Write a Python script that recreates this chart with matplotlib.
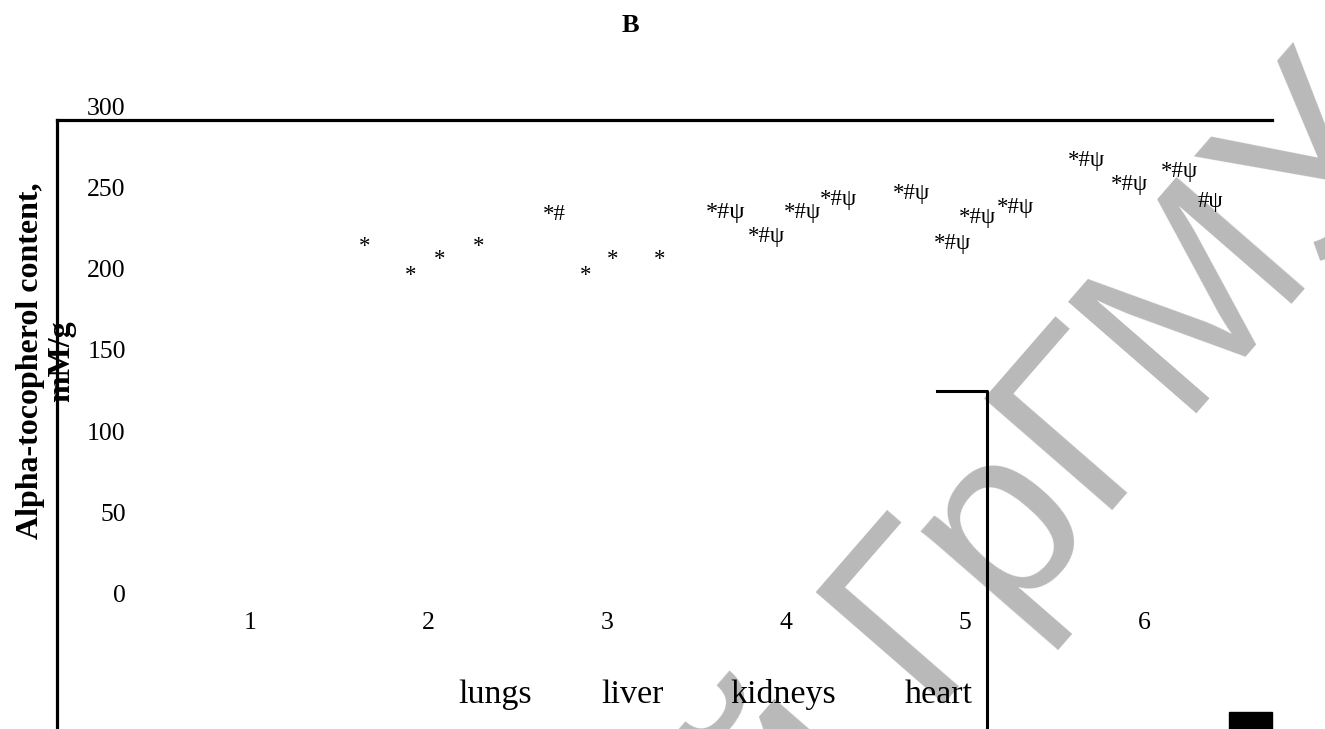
"""Alpha-tocopherol content by organ (panel B)."""

import matplotlib
matplotlib.use("Agg")
import matplotlib.pyplot as plt
from matplotlib.lines import Line2D
from matplotlib.patches import Rectangle

W, H = 1325, 729

# y axis
y_ticks = [0, 50, 100, 150, 200, 250, 300]

# x categories
groups = [1, 2, 3, 4, 5, 6]
group_labels = ["1", "2", "3", "4", "5", "6"]

organs = ["lungs", "liver", "kidneys", "heart"]
organ_pos = [2.37, 3.14, 3.98, 4.85]

# significance marks above each (missing) bar
ann_x = [1.64, 1.90, 2.06, 2.28,
         2.70, 2.88, 3.03, 3.29,
         3.66, 3.89, 4.09, 4.29,
         4.70, 4.93, 5.07, 5.28,
         5.68, 5.92, 6.20, 6.37]
ann_val = [222, 204, 214, 222,
           242, 204, 214, 214,
           243, 228, 243, 251,
           255, 224, 240, 246,
           275, 260, 268, 250]
ann_text = ["*", "*", "*", "*",
            "*#", "*", "*", "*",
            "*#ψ", "*#ψ", "*#ψ", "*#ψ",
            "*#ψ", "*#ψ", "*#ψ", "*#ψ",
            "*#ψ", "*#ψ", "*#ψ", "#ψ"]

SERIF = "Liberation Serif"


def px(x, y):
    # pixel position -> figure fraction
    return x / W, 1 - y / H


def main() -> None:
    plt.rcParams["font.family"] = SERIF
    fig = plt.figure(figsize=(W / 100, H / 100), dpi=100)
    fig.patch.set_facecolor("white")

    left, top = px(57, 120)
    right, _ = px(1272, 0)
    ax = fig.add_axes([left, 0, right - left, top])
    ax.patch.set_alpha(0)

    ax.set_xlim(-0.079, 6.716)
    ax.set_ylim(-75.2, 300)

    for side in ("right", "bottom"):
        ax.spines[side].set_visible(False)
    for side in ("left", "top"):
        ax.spines[side].set_linewidth(2.3)

    ax.set_yticks(y_ticks, [str(t) for t in y_ticks])
    ax.tick_params(axis="y", length=0, pad=-49.5, labelsize=18.5)
    for lbl in ax.get_yticklabels():
        lbl.set_va("bottom")

    ax.set_xticks(groups, group_labels)
    ax.tick_params(axis="x", length=0, pad=-84, labelsize=18.5)

    for name, pos in zip(organs, organ_pos):
        ax.annotate(name, (pos, 0.056), xycoords=("data", "axes fraction"),
                    ha="center", va="center", fontsize=24.5)

    for i, (x, v, s) in enumerate(zip(ann_x, ann_val, ann_text)):
        size = 17.5 if i == 8 else 16.5
        ax.text(x, v, s, ha="center", va="center", fontsize=size)

    fig.text(*px(630, 25), "B", fontsize=19, fontweight="bold",
             ha="center", va="center")

    fig.text(*px(46, 361), "Alpha-tocopherol content,\nmM/g", rotation=90,
             fontsize=23, fontweight="bold", ha="center", va="center",
             multialignment="center", linespacing=1.1)

    # stray drawing remnants in the source image
    x0, y0 = px(937, 391)
    x1, y1 = px(987, 729)
    fig.add_artist(Line2D([x0, x1, x1], [y0, y0, y1], color="black",
                          lw=2.2, transform=fig.transFigure))
    rx, ry = px(1229, 729)
    fig.add_artist(Rectangle((rx, ry), 43 / W, 17 / H, color="black",
                             transform=fig.transFigure))

    # repository watermark, split so the visible part can be placed directly
    wm = dict(rotation=49, rotation_mode="anchor", va="baseline",
              fontsize=178, color="#b9b9b9", family="Liberation Sans",
              zorder=-1)
    fig.text(*px(924, 704), "ГрГМУ", ha="left", **wm)
    fig.text(*px(924 - 45, 704 + 52), "Репозиторий", ha="right", **wm)

    fig.savefig("out.png", dpi=100)
    plt.close(fig)


if __name__ == "__main__":
    main()
